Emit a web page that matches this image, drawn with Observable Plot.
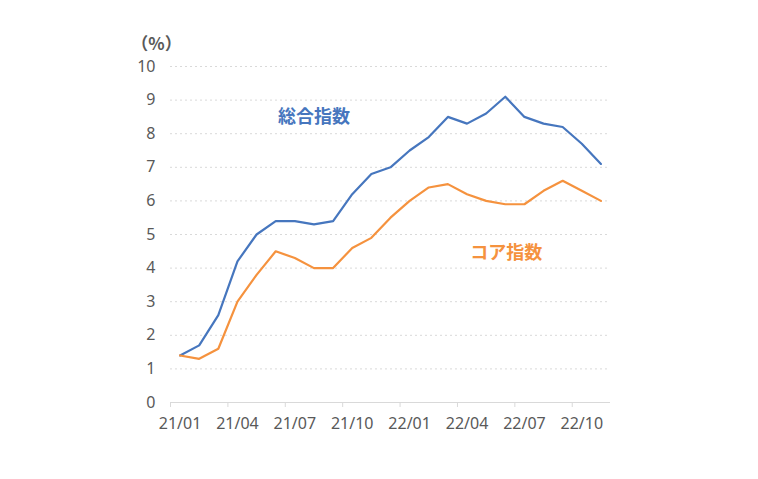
<!DOCTYPE html>
<html>
<head>
<meta charset="utf-8">
<script src="https://cdn.jsdelivr.net/npm/d3@7"></script>
<script src="https://cdn.jsdelivr.net/npm/@observablehq/plot@0.6"></script>
<style>
  html, body { margin: 0; padding: 0; background: #fff; }
  #chart svg { display: block; }
  .unit-label text { font-family: "Noto Sans CJK JP", sans-serif !important; }
</style>
</head>
<body>
<div id="chart"></div>
<script>
const months = ["21/01","21/02","21/03","21/04","21/05","21/06","21/07","21/08","21/09","21/10","21/11","21/12",
                "22/01","22/02","22/03","22/04","22/05","22/06","22/07","22/08","22/09","22/10","22/11"];
const headline = [1.4,1.7,2.6,4.2,5.0,5.4,5.4,5.3,5.4,6.2,6.8,7.0,7.5,7.9,8.5,8.3,8.6,9.1,8.5,8.3,8.2,7.7,7.1];
const core     = [1.4,1.3,1.6,3.0,3.8,4.5,4.3,4.0,4.0,4.6,4.9,5.5,6.0,6.4,6.5,6.2,6.0,5.9,5.9,6.3,6.6,6.3,6.0];
const seriesNames = ["総合指数", "コア指数"];
const colors = ["#4676BE", "#F5923E"];
const yTicks = [0,1,2,3,4,5,6,7,8,9,10];
const xLabelIdx = [0,3,6,9,12,15,18,21];
const labelPos = [{x: 7, y: 8.5}, {x: 17.05, y: 4.45}];
const unitLabel = "（%）";

const rows = [];
months.forEach((m, i) => {
  rows.push({i, m, v: headline[i], s: seriesNames[0]});
  rows.push({i, m, v: core[i], s: seriesNames[1]});
});
const labels = seriesNames.map((s, k) => ({s, x: labelPos[k].x, y: labelPos[k].y}));
const font = "'Segoe UI', 'Noto Sans', 'Noto Sans CJK JP', sans-serif";
const cjk = "'Noto Sans CJK JP', sans-serif";

const chart = Plot.plot({
  width: 758,
  height: 479,
  marginLeft: 170,
  marginRight: 148,
  marginTop: 66,
  marginBottom: 77,
  style: {fontFamily: font, fontSize: "16px", color: "#595959", background: "#fff"},
  x: {domain: [-0.5, months.length - 0.5]},
  y: {domain: [0, 10]},
  color: {domain: seriesNames, range: colors},
  marks: [
    Plot.ruleY(yTicks.filter(d => d > 0), {stroke: "#d9d9d9", strokeWidth: 1, strokeDasharray: "2,3"}),
    Plot.ruleY([0], {stroke: "#d9d9d9", strokeWidth: 1}),
    Plot.axisY({ticks: yTicks, tickSize: 0, tickPadding: 15, label: null, fontSize: 16, fill: "#595959"}),
    Plot.axisX({ticks: xLabelIdx.map(i => i - 0.5), tickSize: 5, tickFormat: () => "", stroke: "#d9d9d9", label: null}),
    Plot.axisX({ticks: xLabelIdx, tickSize: 0, tickPadding: 15, tickFormat: i => months[i], label: null, fontSize: 16, fill: "#595959"}),
    Plot.line(rows, {x: "i", y: "v", z: "s", stroke: "s", strokeWidth: 2.2}),
    Plot.text(labels, {x: "x", y: "y", text: "s", fill: "s", fontSize: 18, fontWeight: "bold", fontFamily: cjk}),
    Plot.text([unitLabel], {frameAnchor: "top-left", textAnchor: "middle", dx: -14, dy: -29, fontSize: 17, fontWeight: "bold", fill: "#595959", fontFamily: cjk, className: "unit-label"})
  ]
});
document.getElementById("chart").appendChild(chart);
</script>
</body>
</html>
